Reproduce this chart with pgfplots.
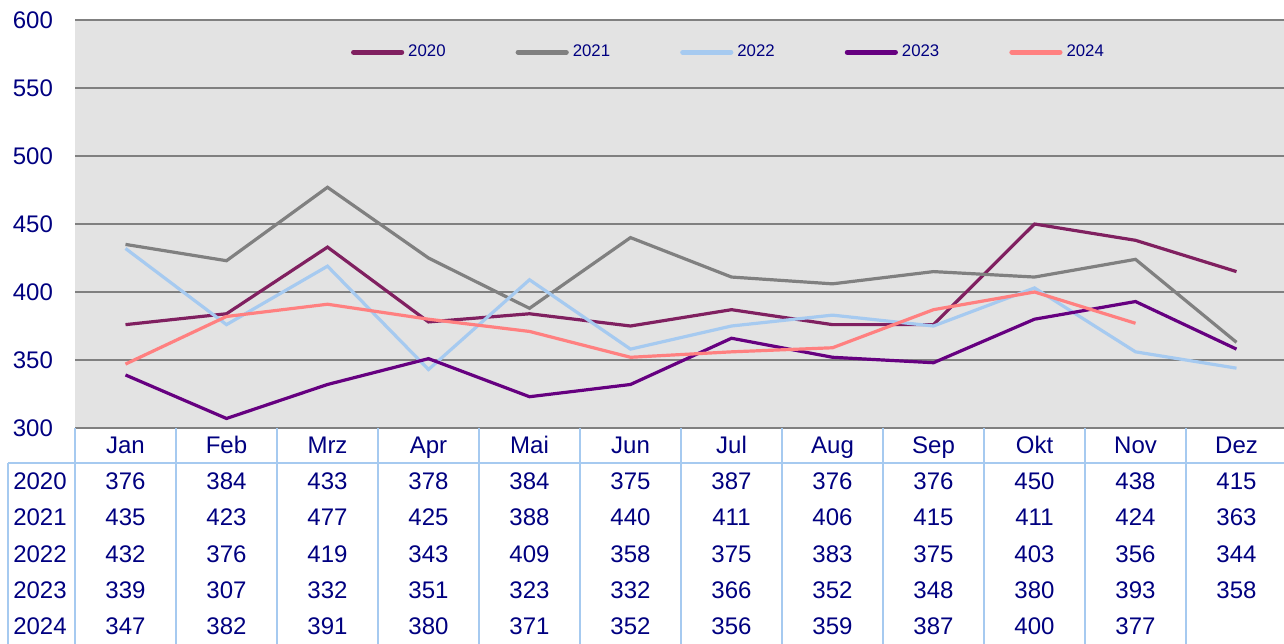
\documentclass[border=0pt]{standalone}
\usepackage{pgfplots}
\pgfplotsset{compat=1.18}
\usepackage{fontspec}
\setmainfont{Liberation Sans}
\definecolor{c20}{RGB}{128,32,96}
\definecolor{c21}{RGB}{128,128,128}
\definecolor{c22}{RGB}{166,202,240}
\definecolor{c23}{RGB}{102,0,128}
\definecolor{c24}{RGB}{255,128,128}
\definecolor{txt}{RGB}{0,0,128}
\definecolor{tab}{RGB}{166,202,240}
\definecolor{bg}{RGB}{227,227,227}
\definecolor{grd}{RGB}{128,128,128}
\begin{document}
\begin{tikzpicture}
\path[use as bounding box] (-37.5pt,-107.5pt) rectangle (604.5pt,214pt);
\begin{axis}[at={(0,0)}, anchor=south west, scale only axis, width=606pt, height=204pt,
 xmin=-0.5, xmax=11.5, ymin=300, ymax=600, clip=false,
 axis line style={draw=none}, ytick={300,350,...,600}, xtick=\empty,
 ymajorgrids, grid style={grd, line width=0.7pt}, major tick length=0pt,
 yticklabel style={font=\fontsize{12}{14}\selectfont, text=txt, anchor=east, xshift=-7.5pt},
 /pgf/number format/assume math mode=true,
 axis background/.style={fill=bg},
 legend style={draw=none, fill=none, at={(0.54,0.921)}, anchor=center,
   font=\fontsize{8.4}{10}\selectfont, text=txt, legend columns=5,
   /tikz/every even column/.append style={column sep=33pt}},
 legend image code/.code={\draw[#1, line width=2.6pt, line cap=round] (0pt,0pt) -- (24pt,0pt);},
 every axis plot/.append style={line width=1.6pt, mark=none},
 ]
\addplot[c20] coordinates {(0,376)(1,384)(2,433)(3,378)(4,384)(5,375)(6,387)(7,376)(8,376)(9,450)(10,438)(11,415)};
\addlegendentry{2020}
\addplot[c21] coordinates {(0,435)(1,423)(2,477)(3,425)(4,388)(5,440)(6,411)(7,406)(8,415)(9,411)(10,424)(11,363)};
\addlegendentry{2021}
\addplot[c22] coordinates {(0,432)(1,376)(2,419)(3,343)(4,409)(5,358)(6,375)(7,383)(8,375)(9,403)(10,356)(11,344)};
\addlegendentry{2022}
\addplot[c23] coordinates {(0,339)(1,307)(2,332)(3,351)(4,323)(5,332)(6,366)(7,352)(8,348)(9,380)(10,393)(11,358)};
\addlegendentry{2023}
\addplot[c24] coordinates {(0,347)(1,382)(2,391)(3,380)(4,371)(5,352)(6,356)(7,359)(8,387)(9,400)(10,377)};
\addlegendentry{2024}
\end{axis}
% data table below the plot area
\draw[tab, line width=1.4pt] (-33.5pt,-17.5pt) -- (610pt,-17.5pt);
\draw[tab, line width=1.4pt] (-33.5pt,-17.5pt) -- (-33.5pt,-110pt);
\foreach \i in {0,...,12} \draw[tab, line width=1.4pt] ({50.5*\i*1pt},0pt) -- ({50.5*\i*1pt},-110pt);
\begin{scope}[every node/.style={text=txt, font=\fontsize{12}{14}\selectfont, inner sep=0pt, anchor=base}]
\foreach \m [count=\i from 0] in {Jan,Feb,Mrz,Apr,Mai,Jun,Jul,Aug,Sep,Okt,Nov,Dez}
  \node at ({(50.5*\i+25.25)*1pt},-12.5pt) {\m};
\foreach \yr/\yy in {2020/-30.7,2021/-48.8,2022/-67,2023/-85.1,2024/-103.3}
  \node at (-17.5pt,\yy pt) {\yr};
\foreach \v [count=\i from 0] in {376,384,433,378,384,375,387,376,376,450,438,415}
  \node at ({(50.5*\i+25.25)*1pt},-30.7pt) {\v};
\foreach \v [count=\i from 0] in {435,423,477,425,388,440,411,406,415,411,424,363}
  \node at ({(50.5*\i+25.25)*1pt},-48.8pt) {\v};
\foreach \v [count=\i from 0] in {432,376,419,343,409,358,375,383,375,403,356,344}
  \node at ({(50.5*\i+25.25)*1pt},-67pt) {\v};
\foreach \v [count=\i from 0] in {339,307,332,351,323,332,366,352,348,380,393,358}
  \node at ({(50.5*\i+25.25)*1pt},-85.1pt) {\v};
\foreach \v [count=\i from 0] in {347,382,391,380,371,352,356,359,387,400,377}
  \node at ({(50.5*\i+25.25)*1pt},-103.3pt) {\v};
\end{scope}
\end{tikzpicture}
\end{document}
